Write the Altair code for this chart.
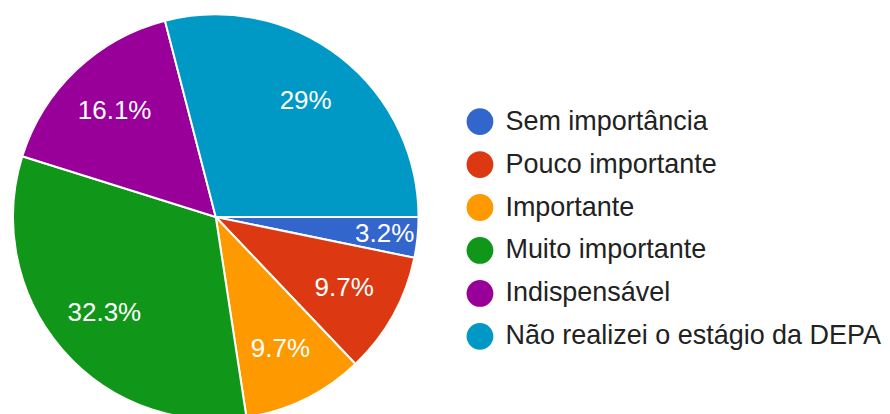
import math
import altair as alt
import pandas as pd

categories = ["Sem importância", "Pouco importante", "Importante",
              "Muito importante", "Indispensável", "Não realizei o estágio da DEPA"]
counts = [1, 3, 3, 10, 5, 9]
labels = ["3.2%", "9.7%", "9.7%", "32.3%", "16.1%", "29%"]
colors = ["#3366cc", "#dc3912", "#ff9900", "#109618", "#990099", "#0099c6"]

df = pd.DataFrame({"cat": categories, "n": counts, "lab": labels,
                   "idx": list(range(len(categories)))})

start = math.pi / 2
theta_scale = alt.Scale(range=[start, start + 2 * math.pi])
color_scale = alt.Scale(domain=categories, range=colors)

pie = alt.Chart(df).mark_arc(outerRadius=203, stroke="white", strokeWidth=2).encode(
    theta=alt.Theta("n:Q", stack=True, scale=theta_scale),
    order=alt.Order("idx:Q"),
    color=alt.Color("cat:N", scale=color_scale, sort=categories,
                    legend=alt.Legend(title=None, orient="none", legendX=459, legendY=100,
                                      symbolType="circle", symbolSize=720,
                                      symbolStrokeWidth=0, symbolOpacity=1,
                                      labelFontSize=27, labelFont="Liberation Sans",
                                      labelColor="#222222", rowPadding=15,
                                      labelOffset=12, labelLimit=500)),
)

text = alt.Chart(df).transform_window(
    cum="sum(n)", sort=[alt.SortField("idx")]
).transform_calculate(
    mid="datum.cum - datum.n / 2",
    lr="datum.n < 2 ? 170 : 147",
).mark_text(font="Liberation Sans", fontSize=26, color="white").encode(
    theta=alt.Theta("mid:Q", stack=None, scale=theta_scale),
    text="lab:N",
    radius=alt.Radius("lr:Q", scale=None),
)

chart = (pie + text).properties(width=416, height=418, padding=0).configure_view(
    stroke=None).configure(background="white")

chart.save("out.html", embed_options={"renderer": "svg", "actions": False})
